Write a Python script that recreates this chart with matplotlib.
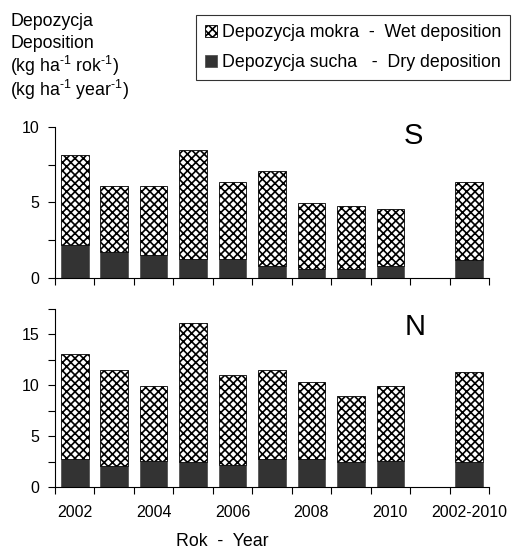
import matplotlib
matplotlib.use("Agg")
import matplotlib.pyplot as plt
from matplotlib.patches import Patch
import numpy as np

plt.rcParams['font.family'] = ['Liberation Sans', 'DejaVu Sans']
plt.rcParams['mathtext.fontset'] = 'custom'
plt.rcParams['mathtext.rm'] = 'Liberation Sans'
plt.rcParams['hatch.linewidth'] = 1.2

categories = ["2002", "2003", "2004", "2005", "2006", "2007", "2008", "2009", "2010", "", "2002-2010"]
tick_labels = ["2002", "2004", "2006", "2008", "2010", "2002-2010"]
tick_label_idx = [0, 2, 4, 6, 8, 10]

# S: totals and dry deposition (NaN = empty slot)
S_total = [8.15, 6.1, 6.1, 8.5, 6.33, 7.08, 4.99, 4.75, 4.6, np.nan, 6.33]
S_dry = [2.2, 1.75, 1.5, 1.24, 1.24, 0.8, 0.57, 0.57, 0.8, np.nan, 1.19]
# N
N_total = [13.08, 11.52, 9.96, 16.16, 10.97, 11.52, 10.29, 8.99, 9.96, np.nan, 11.32]
N_dry = [2.79, 2.04, 2.53, 2.43, 2.2, 2.79, 2.79, 2.43, 2.6, np.nan, 2.43]

dry_color = "#333333"
fs = 11.5
fs_txt = 12.8
hatch = "xxxx"

fig = plt.figure(figsize=(5.13, 5.53), dpi=100)
ax1 = fig.add_axes([55/513, 1-278/553, 434/513, (278-127)/553])
ax2 = fig.add_axes([55/513, 1-487/553, 434/513, (487-309)/553])

x = np.arange(len(categories))

def draw(ax, total, dry, ymax, major, minor, label, lx, ly):
    total = np.array(total, dtype=float)
    dry = np.array(dry, dtype=float)
    wet = total - dry
    m = ~np.isnan(total)
    ax.bar(x[m], dry[m], width=0.7, color=dry_color, edgecolor="#555555", linewidth=0.6)
    ax.bar(x[m], wet[m], width=0.7, bottom=dry[m], color="white", edgecolor="black",
           hatch=hatch, linewidth=0.6)
    ax.set_xlim(-0.5, len(categories) - 0.5)
    ax.set_ylim(0, ymax)
    ax.set_yticks(major)
    ax.set_yticks(minor, minor=True)
    ax.set_yticklabels([str(v) for v in major], fontsize=fs)
    ax.set_xticks(np.arange(-0.5, len(categories), 1.0))
    ax.set_xticklabels([])
    ax.set_xticks(tick_label_idx, minor=True)
    ax.tick_params(axis='x', which='minor', length=0)
    ax.tick_params(axis='x', which='major', length=5, width=0.8, direction='out')
    ax.tick_params(axis='y', which='both', length=5, width=0.8, direction='out', pad=6)
    for s in ['top', 'right']:
        ax.spines[s].set_visible(False)
    for s in ['left', 'bottom']:
        ax.spines[s].set_linewidth(0.8)
    fig.text(lx/513, 1-ly/553, label, fontsize=21, ha='center', va='center')

draw(ax1, S_total, S_dry, 10, [0, 5, 10], [2.5, 7.5], "S", 413, 136)
draw(ax2, N_total, N_dry, 17.5, [0, 5, 10, 15], [2.5, 7.5, 12.5, 17.5], "N", 415, 327)
ax2.set_xticklabels(tick_labels, minor=True, fontsize=fs)
ax2.tick_params(axis='x', which='minor', pad=13)

fig.text(222/513, 1-541/553, "Rok  -  Year", ha='center', va='center', fontsize=fs_txt)

ylab_lines = ["Depozycja", "Deposition",
              r"(kg ha$^{\text{-1}}$ rok$^{\text{-1}}$)",
              r"(kg ha$^{\text{-1}}$ year$^{\text{-1}}$)"]
ys = [21, 44, 66, 90]
for t, yy in zip(ylab_lines, ys):
    fig.text(10/513, 1-yy/553, t, ha='left', va='center', fontsize=fs_txt)

handles = [Patch(facecolor='white', edgecolor='black', hatch=hatch, linewidth=0.6),
           Patch(facecolor=dry_color, edgecolor='#555555', linewidth=0.6)]
labels = ["Depozycja mokra  -  Wet deposition", "Depozycja sucha   -  Dry deposition"]
leg = fig.legend(handles, labels, loc='upper right', bbox_to_anchor=(510/513, 1-15/553),
                 fontsize=fs_txt, frameon=True, fancybox=False, edgecolor='black',
                 handlelength=0.65, handleheight=0.65, handletextpad=0.3,
                 borderpad=0.5, labelspacing=0.75, borderaxespad=0)
leg.get_frame().set_linewidth(0.8)

fig.savefig("out.png", dpi=100)
